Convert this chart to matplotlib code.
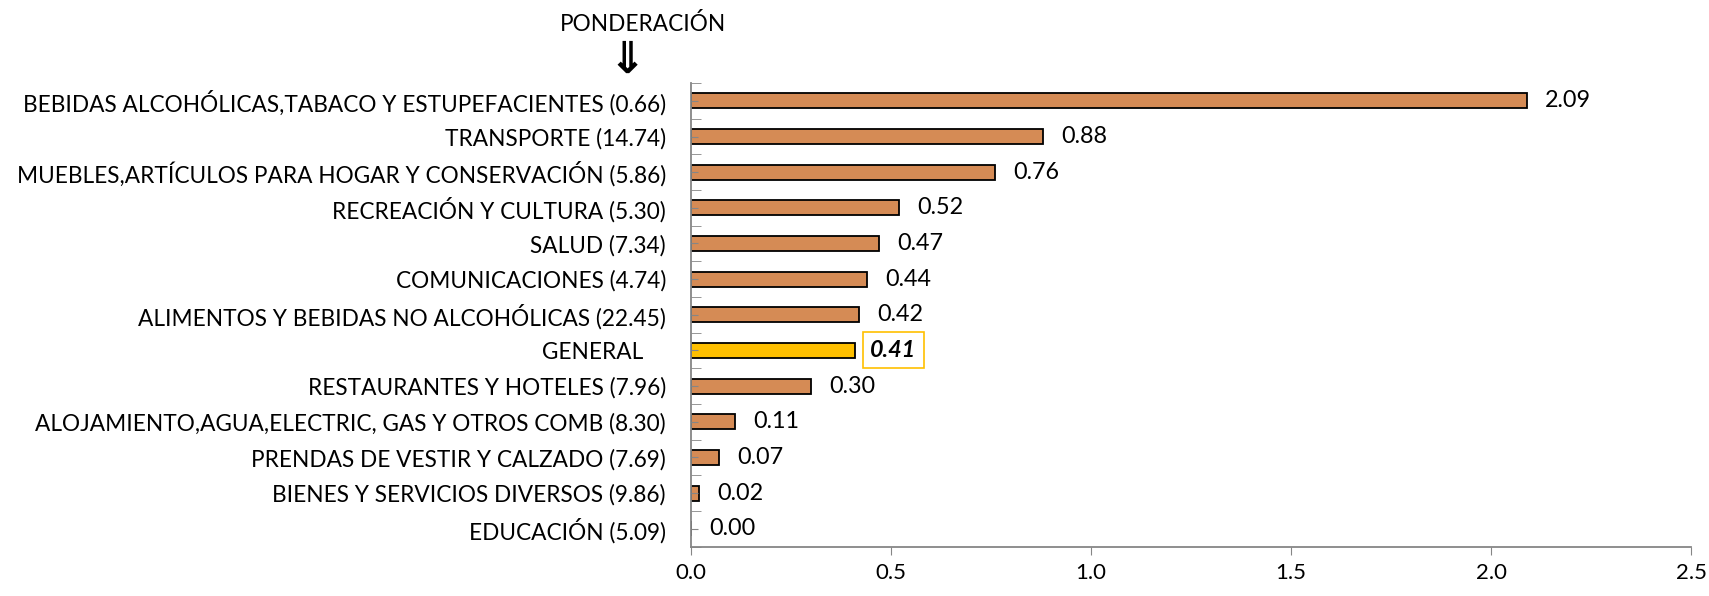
import numpy as np
import matplotlib.pyplot as plt
from matplotlib.ticker import FixedLocator

categories = [
    "BEBIDAS ALCOHÓLICAS,TABACO Y ESTUPEFACIENTES (0.66)",
    "TRANSPORTE (14.74)",
    "MUEBLES,ARTÍCULOS PARA HOGAR Y CONSERVACIÓN (5.86)",
    "RECREACIÓN Y CULTURA (5.30)",
    "SALUD (7.34)",
    "COMUNICACIONES (4.74)",
    "ALIMENTOS Y BEBIDAS NO ALCOHÓLICAS (22.45)",
    "GENERAL",
    "RESTAURANTES Y HOTELES (7.96)",
    "ALOJAMIENTO,AGUA,ELECTRIC, GAS Y OTROS COMB (8.30)",
    "PRENDAS DE VESTIR Y CALZADO (7.69)",
    "BIENES Y SERVICIOS DIVERSOS (9.86)",
    "EDUCACIÓN (5.09)",
]
values = [2.09, 0.88, 0.76, 0.52, 0.47, 0.44, 0.42, 0.41, 0.30, 0.11, 0.07, 0.02, 0.00]
x_ticks = [0.0, 0.5, 1.0, 1.5, 2.0, 2.5]

plt.rcParams['font.family'] = ['Lato', 'DejaVu Sans']
fs = 16.3

fig = plt.figure(figsize=(17.09, 5.96), dpi=100)
ax = fig.add_axes([0.4043, 0.083, 0.5852, 0.7777])

n = len(categories)
ypos = np.arange(n)
colors = ['#FFC000' if c == "GENERAL" else '#D58B55' for c in categories]
ax.barh(ypos, values, height=0.42, color=colors, edgecolor='black', linewidth=1.3)

ax.set_ylim(n - 0.5, -0.5)
ax.set_xlim(0, 2.5)
ax.set_xticks(x_ticks)
ax.set_xticklabels([f"{t:.1f}" for t in x_ticks], fontsize=16)

ax.set_yticks(ypos)
ax.set_yticklabels([c + ("    " if c == "GENERAL" else "") for c in categories], fontsize=fs)
ax.tick_params(axis='y', which='major', direction='in', length=5, color='#868686', pad=18)
ax.yaxis.set_minor_locator(FixedLocator(np.arange(-0.5, n, 1.0)))
ax.tick_params(axis='y', which='minor', direction='in', length=7, color='#868686')
ax.tick_params(axis='x', direction='out', length=6, color='#868686', pad=6)

for s in ['top', 'right']:
    ax.spines[s].set_visible(False)
for s in ['left', 'bottom']:
    ax.spines[s].set_color('#868686')
    ax.spines[s].set_linewidth(1.3)

for y, v, c in zip(ypos, values, categories):
    if c == "GENERAL":
        ax.annotate(f"{v:.2f}", (v, y), xytext=(11, 0), textcoords='offset points',
                    va='center', ha='left', fontsize=fs + 0.5, fontweight='bold', fontstyle='italic',
                    bbox=dict(boxstyle='square,pad=0.32', fc='white', ec='#FFC000', lw=1.2))
    else:
        ax.annotate(f"{v:.2f}", (v, y), xytext=(13, 0), textcoords='offset points',
                    va='center', ha='left', fontsize=fs + 0.5)

fig.text(643 / 1709, 1 - 24 / 596, "PONDERACIÓN", ha='center', va='center', fontsize=fs)
fig.text(627 / 1709, 1 - 60 / 596, "⇓", ha='center', va='center', fontsize=32,
         fontweight='bold', family='DejaVu Sans')

fig.savefig("out.png", dpi=100)
